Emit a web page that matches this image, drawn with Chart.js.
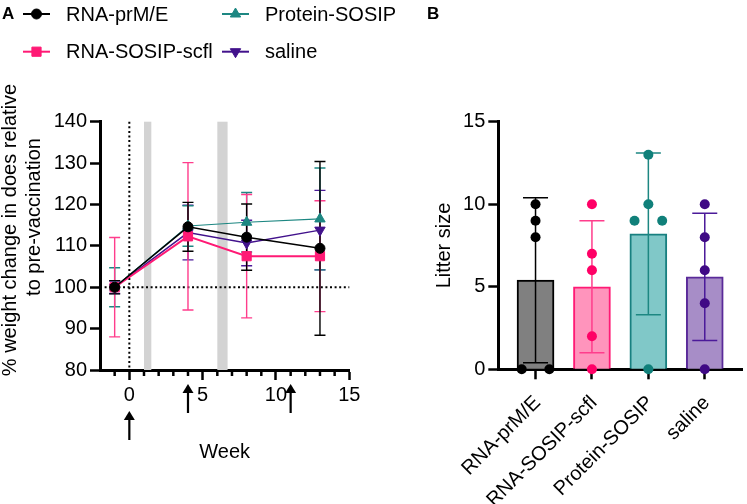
<!DOCTYPE html>
<html>
<head>
<meta charset="utf-8">
<script src="https://cdn.jsdelivr.net/npm/chart.js@4"></script>
<style>
  body { margin: 0; background: #fff; }
  #weightChart { position: absolute; left: 0; top: 0; }
  #litterChart { position: absolute; left: 400px; top: 0; }
</style>
</head>
<body>
<canvas id="weightChart" width="400" height="504"></canvas>
<canvas id="litterChart" width="347" height="504"></canvas>
<script>
// Panel A: weight change
const weeks = [-1, 4, 8, 13];
const groups = ['RNA-prM/E', 'RNA-SOSIP-scfl', 'Protein-SOSIP', 'saline'];
const weightPrME = [100, 114.6, 112.1, 109.4];
const weightScfl = [100, 112.3, 107.5, 107.5];
const weightProtein = [100, 114.8, 115.7, 116.5];
const weightSaline = [100, 113.2, 110.7, 113.8];
const sdPrME = [1.6, 5.9, 8.0, 21.0];
const sdScfl = [12.0, 17.8, 14.9, 13.4];
const sdProtein = [4.7, 4.9, 7.2, 12.3];
const sdSaline = [1.5, 6.6, 5.5, 9.6];
const weightTicks = [80, 90, 100, 110, 120, 130, 140];
const weekLabels = [0, 5, 10, 15];
const boostWeeks = [0, 4, 11];
const shadedWeeks = [[1, 1.5], [6, 6.7]];
const baselineWeight = 100;
const yTitleLines = ['% weight change in does relative', 'to pre-vaccination'];

// Panel B: litter size
const litterPrME = [10, 9, 8, 0, 0];
const litterScfl = [10, 7, 6, 2, 0];
const litterProtein = [13, 10, 9, 9, 0];
const litterSaline = [10, 8, 6, 4, 0];
const litterMean = [5.4, 5.0, 8.2, 5.6];
const litterSd = [5.0, 4.0, 4.9, 3.85];
const litterTicks = [0, 5, 10, 15];

const FONT = '"Liberation Sans", Arial, sans-serif';
const lineColors = ['#000000', '#FF1A75', '#1D8782', '#42128C'];
const errColors = ['#000000', '#FF3D8C', '#1D8782', '#4B1A99'];
const barFills = ['#808080', '#FF94BC', '#80C8C8', '#A78DC7'];
const barEdges = ['#000000', '#FF1A75', '#188080', '#5A2A99'];
const dotColors = ['#000000', '#FF0066', '#10807A', '#3F0A85'];

function series(label, vals, sd, i, style, radius, rotation, width) {
  return {
    label,
    data: weeks.map((w, k) => ({ x: w, y: vals[k] })),
    errors: sd,
    borderColor: lineColors[i],
    backgroundColor: lineColors[i],
    pointBackgroundColor: lineColors[i],
    pointBorderColor: lineColors[i],
    pointBorderWidth: 1,
    pointStyle: style,
    pointRadius: radius,
    pointRotation: rotation,
    borderWidth: width
  };
}

const weightSets = [
  series(groups[0], weightPrME, sdPrME, 0, 'circle', 5, 0, 1.5),
  series(groups[1], weightScfl, sdScfl, 1, 'rect', 6.5, 0, 2),
  series(groups[2], weightProtein, sdProtein, 2, 'triangle', 6, 0, 1.2),
  series(groups[3], weightSaline, sdSaline, 3, 'triangle', 6, 180, 1.5)
];

const weightDecor = {
  id: 'weightDecor',
  beforeDatasetsDraw(chart) {
    const { ctx, chartArea: a, scales: { x, y } } = chart;
    ctx.save();
    ctx.fillStyle = '#D3D3D3';
    shadedWeeks.forEach(([s, e]) => {
      const x0 = x.getPixelForValue(s), x1 = x.getPixelForValue(e);
      ctx.fillRect(x0, a.top, x1 - x0, a.bottom - a.top);
    });
    // dotted reference lines
    ctx.strokeStyle = '#000';
    ctx.lineWidth = 2;
    ctx.setLineDash([2, 2.6]);
    ctx.beginPath();
    const x0 = x.getPixelForValue(0);
    ctx.moveTo(x0, a.top);
    ctx.lineTo(x0, a.bottom);
    const yb = y.getPixelForValue(baselineWeight);
    ctx.moveTo(a.left, yb);
    ctx.lineTo(x.getPixelForValue(15), yb);
    ctx.stroke();
    ctx.setLineDash([]);
    // error bars, last dataset first so the first one sits on top
    for (let i = chart.data.datasets.length - 1; i >= 0; i--) {
      const ds = chart.data.datasets[i];
      ctx.strokeStyle = errColors[i];
      ctx.lineWidth = 1.4;
      ds.data.forEach((p, k) => {
        const px = x.getPixelForValue(p.x);
        const hi = y.getPixelForValue(p.y + ds.errors[k]);
        const lo = y.getPixelForValue(p.y - ds.errors[k]);
        ctx.beginPath();
        ctx.moveTo(px, hi); ctx.lineTo(px, lo);
        ctx.moveTo(px - 5.5, hi); ctx.lineTo(px + 5.5, hi);
        ctx.moveTo(px - 5.5, lo); ctx.lineTo(px + 5.5, lo);
        ctx.stroke();
      });
    }
    ctx.restore();
  },
  afterDraw(chart) {
    const { ctx, chartArea: a, scales: { x } } = chart;
    ctx.save();
    // minor ticks on the week axis
    ctx.strokeStyle = '#000';
    ctx.lineWidth = 2.5;
    for (let w = -1; w <= 15; w++) {
      if (weekLabels.includes(w)) continue;
      const px = x.getPixelForValue(w);
      ctx.beginPath();
      ctx.moveTo(px, a.bottom);
      ctx.lineTo(px, a.bottom + 6);
      ctx.stroke();
    }
    // vaccination arrows
    ctx.fillStyle = '#000';
    boostWeeks.forEach(w => {
      const px = x.getPixelForValue(w);
      const top = a.bottom + (weekLabels.includes(w) ? 41 : 14);
      ctx.beginPath();
      ctx.moveTo(px, top);
      ctx.lineTo(px - 5.5, top + 9);
      ctx.lineTo(px + 5.5, top + 9);
      ctx.closePath();
      ctx.fill();
      ctx.fillRect(px - 1.1, top + 7, 2.2, 22);
    });
    // y axis title (two lines)
    ctx.font = '20px ' + FONT;
    ctx.textAlign = 'center';
    ctx.textBaseline = 'alphabetic';
    [[16, 230], [39.5, 217]].forEach(([tx, ty], k) => {
      ctx.save();
      ctx.translate(tx, ty);
      ctx.rotate(-Math.PI / 2);
      ctx.fillText(yTitleLines[k], 0, 0);
      ctx.restore();
    });
    // legend, two columns
    ctx.textAlign = 'left';
    ctx.textBaseline = 'middle';
    const legendOrder = [0, 1, 2, 3];
    legendOrder.forEach((i, n) => {
      const ds = chart.data.datasets[i];
      const lx = 23 + Math.floor(n / 2) * 199;
      const ly = 14 + (n % 2) * 37.7;
      ctx.strokeStyle = ds.borderColor;
      ctx.lineWidth = 2;
      ctx.beginPath();
      ctx.moveTo(lx, ly); ctx.lineTo(lx + 27, ly);
      ctx.stroke();
      ctx.fillStyle = ds.pointBackgroundColor;
      ctx.lineWidth = 1;
      Chart.helpers.drawPoint(ctx, { pointStyle: ds.pointStyle, radius: ds.pointRadius, rotation: ds.pointRotation, borderWidth: 1 }, lx + 13.5, ly);
      ctx.fillStyle = '#000';
      ctx.fillText(ds.label, lx + 43, ly + 1);
    });
    ctx.font = 'bold 17px ' + FONT;
    ctx.textBaseline = 'alphabetic';
    ctx.fillText('A', 2, 18.5);
    ctx.restore();
  }
};

const tickFont = { family: FONT, size: 20 };

new Chart(document.getElementById('weightChart'), {
  type: 'line',
  data: { datasets: weightSets },
  options: {
    responsive: false,
    animation: false,
    events: [],
    layout: { padding: { top: 121.7, right: 50.7, left: 0, bottom: 0 } },
    plugins: { legend: { display: false }, tooltip: { enabled: false } },
    scales: {
      x: {
        type: 'linear', min: -2, max: 15,
        ticks: {
          stepSize: 1, autoSkip: false, maxRotation: 0, padding: 3,
          color: '#000', font: tickFont,
          callback: v => weekLabels.includes(v) ? v : ''
        },
        grid: {
          drawOnChartArea: false, tickLength: 10, tickWidth: 2.5,
          tickColor: c => weekLabels.includes(c.tick.value) ? '#000' : 'rgba(0,0,0,0)'
        },
        border: { color: '#000', width: 3 },
        title: { display: true, text: 'Week', color: '#000', font: tickFont, padding: { top: 0, bottom: 40 } },
        afterFit: s => { s.height = 134; }
      },
      y: {
        min: 80, max: 140,
        afterBuildTicks: s => { s.ticks = weightTicks.map(v => ({ value: v })); },
        ticks: { color: '#000', font: tickFont, padding: 3 },
        grid: { drawOnChartArea: false, tickLength: 10, tickWidth: 2.5, tickColor: '#000' },
        border: { color: '#000', width: 3 },
        afterFit: s => { s.width = 100; }
      }
    }
  },
  plugins: [weightDecor]
});

// Panel B
const litterGroups = [litterPrME, litterScfl, litterProtein, litterSaline];
const dots = [];
const dotFill = [];
litterGroups.forEach((vals, g) => {
  vals.forEach((v, k) => {
    const same = vals.filter(u => u === v).length;
    const rank = vals.slice(0, k).filter(u => u === v).length;
    const shift = same > 1 ? (rank - (same - 1) / 2) * 0.49 : 0;
    dots.push({ x: g + shift, y: v });
    dotFill.push(dotColors[g]);
  });
});

const litterDecor = {
  id: 'litterDecor',
  afterDatasetDraw(chart, args) {
    if (args.index !== 0) return;
    const { ctx, scales: { x, y } } = chart;
    ctx.save();
    ctx.lineWidth = 1.5;
    litterMean.forEach((m, i) => {
      const px = x.getPixelForValue(i);
      const hi = y.getPixelForValue(m + litterSd[i]);
      const lo = y.getPixelForValue(m - litterSd[i]);
      ctx.strokeStyle = errColors[i];
      ctx.beginPath();
      ctx.moveTo(px, hi); ctx.lineTo(px, lo);
      ctx.moveTo(px - 12.5, hi); ctx.lineTo(px + 12.5, hi);
      ctx.moveTo(px - 12.5, lo); ctx.lineTo(px + 12.5, lo);
      ctx.stroke();
    });
    ctx.restore();
  },
  afterDraw(chart) {
    const { ctx } = chart;
    ctx.save();
    ctx.font = 'bold 17px ' + FONT;
    ctx.fillStyle = '#000';
    ctx.fillText('B', 27, 18.5);
    ctx.restore();
  }
};

new Chart(document.getElementById('litterChart'), {
  data: {
    datasets: [
      {
        type: 'bar',
        data: litterMean.map((m, i) => ({ x: i, y: m })),
        backgroundColor: barFills,
        borderColor: barEdges,
        borderWidth: 2,
        barThickness: 37,
        order: 2
      },
      {
        type: 'scatter',
        data: dots,
        pointBackgroundColor: dotFill,
        pointBorderWidth: 0,
        pointRadius: 5,
        clip: false,
        order: 1
      }
    ]
  },
  options: {
    responsive: false,
    animation: false,
    events: [],
    layout: { padding: { top: 121.7, right: 0, left: 0, bottom: 0 } },
    plugins: { legend: { display: false }, tooltip: { enabled: false } },
    scales: {
      x: {
        type: 'linear', min: -0.66, max: 3.66, offset: false,
        afterBuildTicks: s => { s.ticks = groups.map((g, i) => ({ value: i })); },
        ticks: {
          autoSkip: false, minRotation: 45, maxRotation: 45, padding: 12, labelOffset: 2,
          color: '#000', font: tickFont,
          callback: v => groups[v]
        },
        grid: { offset: false, drawOnChartArea: false, tickLength: 10, tickWidth: 2.5, tickColor: '#000' },
        border: { color: '#000', width: 3 },
        afterFit: s => { s.height = 134.7; }
      },
      y: {
        min: 0, max: 15,
        afterBuildTicks: s => { s.ticks = litterTicks.map(v => ({ value: v })); },
        ticks: { color: '#000', font: tickFont, padding: 3 },
        grid: { drawOnChartArea: false, tickLength: 10, tickWidth: 2.5, tickColor: '#000' },
        border: { color: '#000', width: 3 },
        title: { display: true, text: 'Litter size', color: '#000', font: tickFont, padding: { top: 32, bottom: 0 } },
        afterFit: s => { s.width = 98.3; }
      }
    }
  },
  plugins: [litterDecor]
});
</script>
</body>
</html>
